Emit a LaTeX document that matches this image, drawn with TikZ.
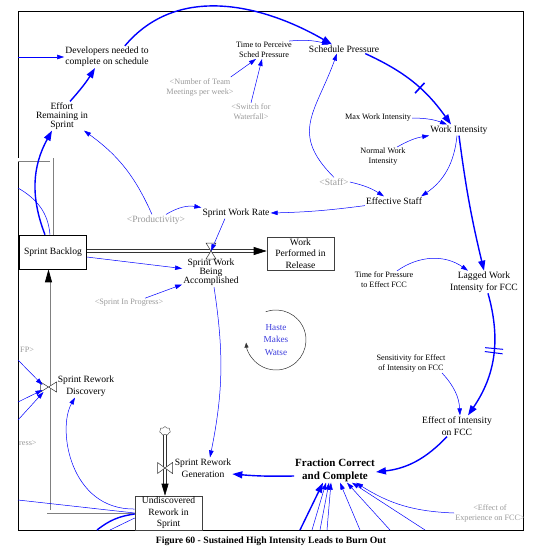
\documentclass[tikz,border=0pt]{standalone}
\usepackage{fontspec}
\setmainfont{Liberation Serif}
\usetikzlibrary{arrows.meta,shapes.symbols}
\definecolor{hastecol}{RGB}{60,60,220}

\begin{document}
\begin{tikzpicture}
  [x=1pt,y=1pt,
   every node/.style={align=center,inner sep=1pt,font=\fontsize{9.6}{10.5}\selectfont},
   small/.style={font=\fontsize{8.2}{10}\selectfont},
   shadow/.style={text=black!40},
   stock/.style={draw=black!75,line width=.6pt,minimum width=67pt,minimum height=34pt,font=\fontsize{9.6}{11.5}\selectfont},
   link/.style={draw=blue,line width=.5pt,-{Triangle[length=7pt,width=4.5pt]}},
   boldlink/.style={draw=blue,line width=1.4pt,-{Triangle[length=10pt,width=7pt]}},
   pipe/.style={draw=black!80,double=white,double distance=2.4pt,line width=.6pt},
   greypipe/.style={pipe,draw=black!50,line width=.8pt},
   valve/.style={draw=black!80,fill=white,line width=.5pt},
   delay/.style={sloped,draw=blue,line width=1.6pt,minimum width=0pt,minimum height=14pt,inner sep=0pt},
   delaytwo/.style={delay,line width=1pt,minimum height=18pt}]

  \useasboundingbox (0,0) rectangle (546,-558);
  \draw[line width=1pt] (18,-11) rectangle (523,-530);

  % stocks and flows
  \node (backlog)[stock,draw=black] at (53,-252) {Sprint Backlog};
  \node (perf)[stock,minimum height=33pt] at (300.5,-253.5) {Work\\Performed in\\Release};
  \node (undisc)[stock] at (168.5,-513) {Undiscovered\\Rework in\\Sprint};
  \node (cloud)[cloud,draw=black!70,fill=white,cloud puffs=7,minimum width=11pt,minimum height=9pt,inner sep=0pt] at (165,-431) {};
  \coordinate (v1) at (211,-251);
  \coordinate (v2) at (48.5,-387);
  \coordinate (v3) at (165,-468);
  \coordinate (pin) at (18,-159.5);

  \draw[pipe,-{Triangle[length=13pt,width=8pt,black]}] (backlog.east |- v1) -- (perf.west |- v1);
  \draw[pipe,-{Triangle[length=12pt,width=7pt,black]}] (cloud.south) -- (cloud.south |- undisc.north);
  \draw[greypipe,-{Triangle[length=13pt,width=7pt,black]}] ([yshift=1.5pt]undisc.west) -| (v2 |- backlog.south);
  \draw[greypipe] (pin) -| ([xshift=-1.5pt]backlog.north);

  \draw[valve] (v1) -- ++(-5,8) -- ++(10,0) -- cycle (v1) -- ++(-5,-8) -- ++(10,0) -- cycle;
  \draw[valve] (v2) -- ++(-8,5) -- ++(0,-10) -- cycle (v2) -- ++(8,5) -- ++(0,-10) -- cycle;
  \draw[valve] (v3) -- ++(-7.5,5.5) -- ++(0,-11) -- cycle (v3) -- ++(7.5,5.5) -- ++(0,-11) -- cycle;

  \node (accomp)[font=\fontsize{9.6}{9}\selectfont] at (211,-272.5) {Sprint Work\\Being\\Accomplished};
  \node (discov)[font=\fontsize{9.6}{12}\selectfont] at (86,-386) {Sprint Rework\\Discovery};
  \node (gen)[font=\fontsize{9.6}{12}\selectfont] at (203,-468) {Sprint Rework\\Generation};

  % variables
  \node (devs)[font=\fontsize{9.6}{11}\selectfont] at (107,-57) {Developers needed to\\complete on schedule};
  \node (effort)[font=\fontsize{9.6}{9}\selectfont] at (62,-116) {Effort\\Remaining in\\Sprint};
  \node (perceive)[small] at (264,-50) {Time to Perceive\\Sched Pressure};
  \node (meetings)[small,shadow] at (200,-87) {<Number of Team\\Meetings per week>};
  \node (waterfall)[small,shadow] at (251,-112) {<Switch for\\Waterfall>};
  \node (sched) at (344,-49) {Schedule Pressure};
  \node (maxwi)[small] at (378,-118) {Max Work Intensity};
  \node (wi) at (459,-130) {Work Intensity};
  \node (normwi)[small] at (383,-157) {Normal Work\\Intensity};
  \node (staff)[shadow] at (334,-182) {<Staff>};
  \node (effstaff) at (394,-201) {Effective Staff};
  \node (rate) at (236,-213) {Sprint Work Rate};
  \node (prod)[shadow] at (156,-220) {<Productivity>};
  \node (timepress)[small] at (384,-280) {Time for Pressure\\to Effect FCC};
  \node (lagged)[font=\fontsize{9.6}{11.5}\selectfont] at (484,-282) {Lagged Work\\Intensity for FCC};
  \node (inprog)[small,shadow] at (129,-303) {<Sprint In Progress>};
  \node (sens)[small] at (411,-363) {Sensitivity for Effect\\of Intensity on FCC};
  \node (effint)[font=\fontsize{9.6}{12}\selectfont] at (457,-426) {Effect of Intensity\\on FCC};
  \node (fcc)[font=\fontsize{11}{13}\selectfont\bfseries] at (335,-470) {Fraction Correct\\and Complete};
  \node (exper)[small,shadow] at (490,-513) {<Effect of\\Experience on FCC>};
  \node (fp)[small,shadow,anchor=west] at (19,-350) {FP>};
  \node (ress)[small,shadow,anchor=west] at (18,-443) {ress>};
  \node (haste)[text=hastecol,font=\fontsize{9.2}{12.5}\selectfont] at (276,-340) {Haste\\Makes\\Watse};
  \node (caption)[font=\fontsize{9.7}{11}\selectfont\bfseries] at (271,-541) {Figure 60 - Sustained High Intensity Leads to Burn Out};

  % loose ends at the frame
  \coordinate (in1) at (18,-57);
  \coordinate (in2) at (18,-188);
  \coordinate (in3) at (18,-360);
  \coordinate (in4) at (18,-402);
  \coordinate (in5) at (18,-420);
  \coordinate (in6) at (18,-500);
  \coordinate (out1) at (97,-530);
  \coordinate (out2) at (110,-530);
  \coordinate (b1) at (300,-530);
  \coordinate (b2) at (312,-530);
  \coordinate (b3) at (320,-530);
  \coordinate (b4) at (327,-530);
  \coordinate (b5) at (360,-530);
  \coordinate (b6) at (390,-530);
  \coordinate (b7) at (425,-530);

  % links
  \draw[boldlink] ([xshift=-25pt]devs.north east) to[out=50,in=150] ([xshift=-12pt]sched.north);
  \draw[link] (in1) -- (devs.west);
  \draw[boldlink] ([xshift=8pt]effort.north) to[bend right=5] ([xshift=-12pt]devs.south);
  \draw[link] ([xshift=-4pt]meetings.north east) -- ([xshift=-8pt]perceive.south);
  \draw[link] (waterfall.north) -- ([xshift=-2pt]perceive.south);
  \draw[link] ([xshift=-4pt]perceive.north east) to[bend left=10] ([xshift=-15pt]sched.north);
  \draw[boldlink] ([xshift=-15pt]sched.south east) to[bend left=15] node[delay,pos=.58]{} ([xshift=-8pt]wi.north);
  \draw[link] (maxwi.east) to[bend left=10] ([xshift=-12pt]wi.north);
  \draw[link] (staff.north) to[out=135,in=-110,looseness=1.3] ([xshift=-7pt]sched.south);
  \draw[link] (staff.east) to[bend left=10] ([xshift=-10pt]effstaff.north);
  \draw[link] ([xshift=14pt]normwi.north) to[bend left=10] (wi.south west);
  \draw[link] ([xshift=-2pt]wi.south) to[bend left=25] ([xshift=-2pt]effstaff.north east);
  \draw[boldlink] (wi.south) to[bend right=3] (lagged.north);
  \draw[link] (effstaff.south west) to[bend left=3] (rate.east);
  \draw[link] ([xshift=-4pt]prod.north) to[bend right=15] ([xshift=22pt]effort.south);
  \draw[link] ([xshift=10pt]prod.north) to[bend left=20] (rate.north west);
  \draw[link] ([xshift=-11pt]rate.south) -- (v1);
  \draw[link] ([yshift=-5pt]backlog.east) -- ([yshift=4pt]accomp.west);
  \draw[link] ([xshift=16pt]inprog.north) -- ([yshift=-12pt]accomp.west);
  \draw[boldlink] ([xshift=-8pt]backlog.north) to[bend left=25] ([xshift=-10pt]effort.south);
  \draw[blue,line width=.5pt] (in2) to[out=-30,in=95] ([xshift=-3pt]backlog.north);
  \draw[link] ([xshift=3pt]accomp.south) to[bend left=10] ([xshift=7pt]gen.north);
  \draw[boldlink] ([yshift=-6pt]fcc.west) to[bend left=3] ([yshift=-6pt]gen.east);
  \draw[boldlink] ([xshift=-10pt]effint.south) to[bend left=20] ([yshift=-2pt]fcc.east);
  \draw[link] ([xshift=31pt]sens.south) to[bend left=20] ([xshift=3pt]effint.north);
  \draw[boldlink] ([xshift=4pt]lagged.south) to[bend left=25] node[delaytwo,pos=.43]{} node[delaytwo,pos=.465]{} ([xshift=11pt]effint.north);
  \draw[link] ([xshift=13pt]timepress.north) to[bend left=35] ([xshift=-16pt]lagged.north);
  \draw[link] (in3) -- ([xshift=-6pt,yshift=2pt]v2);
  \draw[link] (in4) -- ([xshift=-6pt,yshift=-3pt]v2);
  \draw[link] (in5) -- ([xshift=-5pt,yshift=-5pt]v2);
  \draw[link] ([yshift=4pt]undisc.west) .. controls +(-65,-1) and +(-18,-31) .. ([xshift=-11pt]discov.south);
  \draw[blue,line width=.5pt] (in6) -- (undisc.west);
  \draw[blue,line width=1.4pt] ([yshift=-1pt]undisc.west) to[bend right=15] (out1);
  \draw[blue,line width=.5pt] ([yshift=-5pt]undisc.west) -- (out2);
  \draw[boldlink] (b1) -- ([xshift=-12pt]fcc.south);
  \draw[link] (b2) -- ([xshift=-9pt]fcc.south);
  \draw[link] (b3) -- ([xshift=-6pt]fcc.south);
  \draw[link] (b4) -- ([xshift=-4pt]fcc.south);
  \draw[link] (b5) -- ([xshift=5pt]fcc.south);
  \draw[link] (b6) -- ([xshift=12pt]fcc.south);
  \draw[link] (b7) -- ([xshift=17pt]fcc.south);
  \draw[link] (exper.west) to[bend left=15] ([xshift=21pt]fcc.south);

  % loop marker
  \draw[black!80,line width=.5pt,-{Triangle[length=5pt,width=4pt]}] (haste.center) ++(110:30) arc[start angle=110,end angle=-175,radius=30];
\end{tikzpicture}
\end{document}
